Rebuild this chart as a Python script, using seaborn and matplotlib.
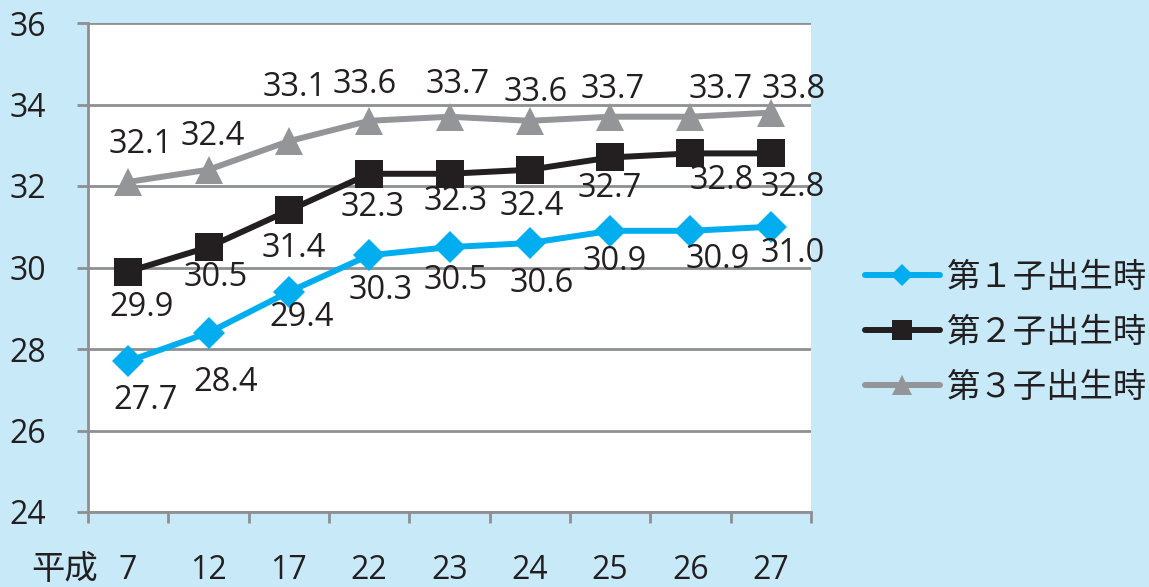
import matplotlib
matplotlib.use("Agg")
import matplotlib.pyplot as plt
import seaborn as sns
import numpy as np
from matplotlib.ticker import FixedLocator, NullFormatter

# 平成 years and mean maternal age at birth of 1st/2nd/3rd child
years = ["7", "12", "17", "22", "23", "24", "25", "26", "27"]
first_child = [27.7, 28.4, 29.4, 30.3, 30.5, 30.6, 30.9, 30.9, 31.0]
second_child = [29.9, 30.5, 31.4, 32.3, 32.3, 32.4, 32.7, 32.8, 32.8]
third_child = [32.1, 32.4, 33.1, 33.6, 33.7, 33.6, 33.7, 33.7, 33.8]
series_names = ["第１子出生時", "第２子出生時", "第３子出生時"]
y_ticks = [24, 26, 28, 30, 32, 34, 36]

# label nudges in pixels (dx right, dy down) so the value texts don't collide
offsets_first = [(17, 39), (17, 50), (13, 26), (11, 35), (6, 33), (12, 40), (5, 31), (27, 29), (22, 27)]
offsets_second = [(13, 36), (7, 30), (5, 38), (3, 34), (6, 28), (2, 37), (0, 31), (31, 27), (22, 34)]
offsets_third = [(13, -37), (4, -33), (6, -54), (-4, -36), (8, -32), (6, -28), (2, -27), (30, -27), (23, -23)]

BG = "#c7e9f8"
GRID = "#8e8f92"
TEXT = "#231f20"
styles = [
    dict(color="#00aeef", marker="D", ms=16.5),
    dict(color="#231f20", marker="s", ms=20.5),
    dict(color="#939598", marker="^", ms=20.5),
]

sns.set_theme(style="white")
plt.rcParams["font.family"] = ["Open Sans", "Noto Sans CJK JP", "DejaVu Sans"]

fig = plt.figure(figsize=(11.49, 5.87), dpi=100, facecolor=BG)
ax = fig.add_axes([88 / 1149, 1 - 512 / 587, (811 - 88) / 1149, (512 - 23) / 587])
ax.set_facecolor("white")

idx = np.arange(len(years))
all_series = [first_child, second_child, third_child]
all_offsets = [offsets_first, offsets_second, offsets_third]
for name, vals, st, offs in zip(series_names, all_series, styles, all_offsets):
    sns.lineplot(x=idx, y=vals, ax=ax, color=st["color"], marker=st["marker"],
                 markersize=st["ms"], markeredgewidth=0, linewidth=4.3,
                 label=name, zorder=3, solid_capstyle="round")
    for i, v in enumerate(vals):
        ax.annotate(f"{v:.1f}", (idx[i], v), xytext=(offs[i][0], -offs[i][1]),
                    textcoords="offset pixels", ha="center", va="center",
                    fontsize=23.5, color=TEXT, zorder=4)

ax.set_xlim(-0.5, len(years) - 0.5)
ax.set_ylim(24, 36)
ax.set_yticks(y_ticks)
ax.set_yticklabels([str(t) for t in y_ticks])
ax.grid(axis="y", color=GRID, linewidth=2)
ax.grid(axis="x", visible=False)
ax.set_axisbelow(True)

ax.set_xticks(idx)
ax.set_xticklabels(years)
ax.xaxis.set_minor_locator(FixedLocator(np.arange(-0.5, len(years), 1.0)))
ax.xaxis.set_minor_formatter(NullFormatter())
ax.tick_params(axis="x", which="major", length=0, pad=30, labelsize=23, labelcolor=TEXT)
ax.tick_params(axis="x", which="minor", bottom=True, length=8, width=2, color=GRID, direction="out")
ax.tick_params(axis="y", left=True, length=8, width=2, color=GRID, direction="out",
               pad=22, labelsize=23, labelcolor=TEXT)

for side in ["top", "right"]:
    ax.spines[side].set_visible(False)
for side in ["left", "bottom"]:
    ax.spines[side].set_color(GRID)
    ax.spines[side].set_linewidth(2)

fig.text(65 / 1149, 1 - 570 / 587, "平成", fontsize=24, color=TEXT,
         ha="center", va="center", family=["Noto Sans CJK JP", "DejaVu Sans"])

ax.legend_.remove()
h, l = ax.get_legend_handles_labels()
leg = fig.legend(h, l, loc="center left", bbox_to_anchor=(865 / 1149, 1 - 332 / 587),
                 frameon=False, handlelength=2.25, markerscale=0.68, labelspacing=0.6,
                 handletextpad=0.2, borderaxespad=0, borderpad=0,
                 prop={"family": ["Noto Sans CJK JP"], "size": 24})
for t in leg.get_texts():
    t.set_color(TEXT)

fig.savefig("out.png", dpi=100, facecolor=BG)
